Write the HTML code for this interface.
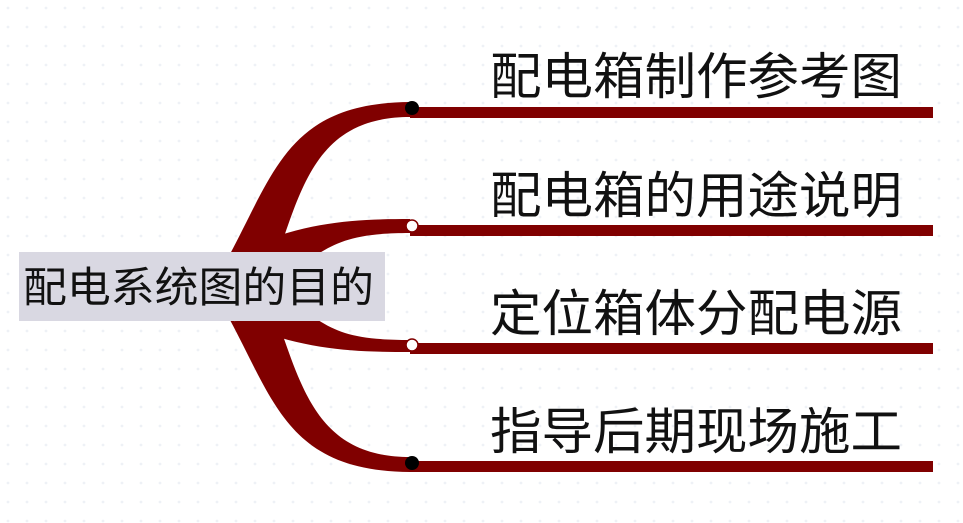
<!DOCTYPE html>
<html><head><meta charset="utf-8"><style>
html,body{margin:0;padding:0;background:#fff;}
svg{display:block}
text{font-family:"Liberation Sans","Noto Sans CJK SC",sans-serif;fill:#111}
</style></head><body>
<svg width="963" height="523" viewBox="0 0 963 523" xmlns="http://www.w3.org/2000/svg">
<defs><pattern id="d" width="19" height="19" patternUnits="userSpaceOnUse"><circle cx="8" cy="8" r="1.4" fill="#eef1f6"/></pattern></defs>
<rect width="963" height="523" fill="url(#d)"/>
<g fill="#800000">
<path d="M230,254 C275,170 290,103 410,102 L410,117 C325,117 305,175 282,243 Z"/>
<path d="M232,254 C300,222 350,219 410,219 L410,233 C360,233 340,240 318,254 Z"/>
<path d="M232,320 C300,350 350,352 410,352 L410,340 C360,340 340,334 318,320 Z"/>
<path d="M230,320 C275,404 290,471 410,472 L410,457 C325,457 305,399 282,333 Z"/>
<rect x="410" y="107" width="523" height="11"/>
<rect x="410" y="225" width="523" height="11"/>
<rect x="410" y="343" width="523" height="11"/>
<rect x="410" y="461" width="523" height="11"/>
</g>
<circle cx="412" cy="108" r="7" fill="#000"/>
<circle cx="412" cy="226" r="6" fill="#fff" stroke="#800000" stroke-width="1.5"/>
<circle cx="412" cy="345" r="6" fill="#fff" stroke="#800000" stroke-width="1.5"/>
<circle cx="412" cy="463" r="7" fill="#000"/>
<rect x="19" y="252" width="366" height="69" fill="#d9d8e2"/>
<text x="23" y="302" font-size="42" textLength="351" lengthAdjust="spacingAndGlyphs">配电系统图的目的</text>
<text x="490" y="94" font-size="50" textLength="412" lengthAdjust="spacingAndGlyphs">配电箱制作参考图</text>
<text x="490" y="213" font-size="50" textLength="412" lengthAdjust="spacingAndGlyphs">配电箱的用途说明</text>
<text x="490" y="331" font-size="50" textLength="412" lengthAdjust="spacingAndGlyphs">定位箱体分配电源</text>
<text x="490" y="449" font-size="50" textLength="412" lengthAdjust="spacingAndGlyphs">指导后期现场施工</text>
</svg>
</body></html>
